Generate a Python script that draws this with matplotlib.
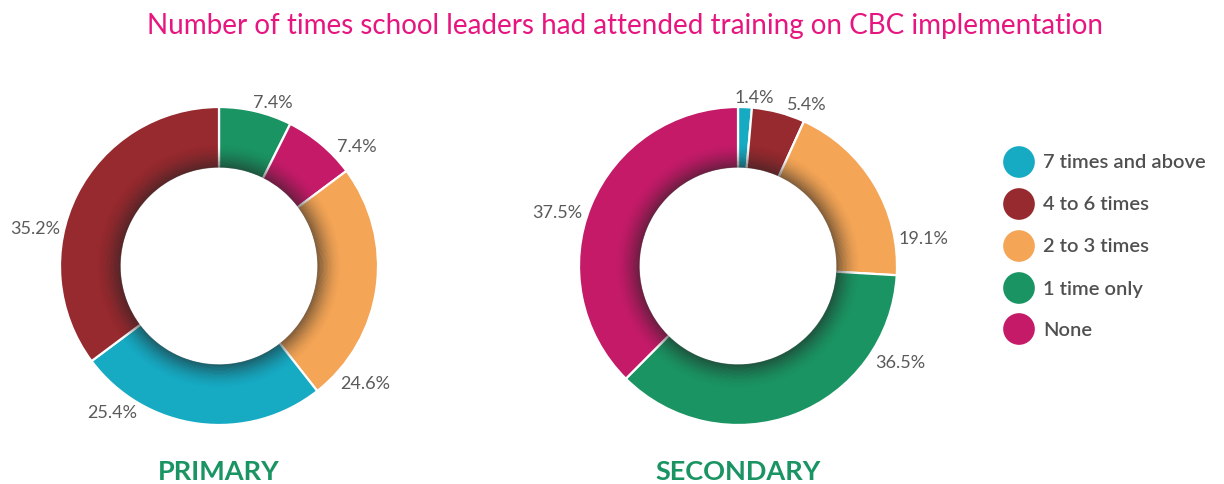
import matplotlib
matplotlib.use("Agg")
import matplotlib.pyplot as plt
from matplotlib.patches import Wedge

# ---------------- data ----------------
categories = ["7 times and above", "4 to 6 times", "2 to 3 times", "1 time only", "None"]
category_colors = ["#16AAC3", "#962A2F", "#F4A556", "#1A9462", "#C41A68"]

primary_order = ["1 time only", "None", "2 to 3 times", "7 times and above", "4 to 6 times"]
primary_values = [7.4, 7.4, 24.6, 25.4, 35.2]

secondary_order = ["7 times and above", "4 to 6 times", "2 to 3 times", "1 time only", "None"]
secondary_values = [1.4, 5.4, 19.1, 36.5, 37.5]

panel_titles = ["PRIMARY", "SECONDARY"]
title = "Number of times school leaders had attended training on CBC implementation"

# ---------------- layout (pixel space, y from top) ----------------
W, H = 1224, 484
centers = [(219, 266), (738, 266)]
R_OUT, R_IN = 159, 97.5
primary_label_xy = [(273, 103), (357, 147), (365, 384), (112, 413), (35, 229)]
secondary_label_xy = [(754, 98), (807, 105), (923, 239), (900, 363), (557, 213)]
legend_x, legend_text_x = 1019, 1043
legend_y = [162, 204, 246, 288, 329]

color_of = dict(zip(categories, category_colors))

fig = plt.figure(figsize=(W / 100, H / 100), dpi=100)
ax = fig.add_axes([0, 0, 1, 1])

def fy(y):
    return H - y

panels = [(primary_order, primary_values, primary_label_xy),
          (secondary_order, secondary_values, secondary_label_xy)]

for (order, vals, label_xy), (cx, cy), ptitle in zip(panels, centers, panel_titles):
    c = (cx, fy(cy))
    cols = [color_of[k] for k in order]
    ax.pie(vals, colors=cols, startangle=90, counterclock=False, center=c,
           radius=R_OUT, normalize=True,
           wedgeprops=dict(width=R_OUT - R_IN, edgecolor="white", linewidth=1.6))
    # inner shadow
    n = 30
    sw = 24.0
    start = R_IN + 0.9
    for i in range(n):
        r0 = start + sw * i / n
        t = 1 - i / n
        a = 0.55 * t ** 1.8
        ax.add_patch(Wedge(c, r0 + sw / n + 0.05, 0, 360, width=sw / n + 0.1,
                           facecolor="#222222", alpha=a, edgecolor="none", zorder=3))
    for v, (lx, ly) in zip(vals, label_xy):
        ax.text(lx, fy(ly), f"{v:.1f}%", ha="center", va="center",
                fontsize=13, color="#5a5a5a", family="Lato", zorder=5)
    ax.text(cx, fy(472), ptitle, ha="center", va="center", fontsize=19.5,
            fontweight="bold", color="#1A9462", family="Lato")

# legend
for cat, col, ly in zip(categories, category_colors, legend_y):
    ax.scatter([legend_x], [fy(ly)], s=520, color=col, edgecolor="none", zorder=5)
    ax.text(legend_text_x, fy(ly + 1), cat, ha="left", va="center", fontsize=14.5,
            fontweight="semibold", color="#505050", family="Lato")

ax.text(625, fy(26), title, ha="center", va="center", fontsize=20,
        color="#E6157F", family="Lato")

ax.set_xlim(0, W)
ax.set_ylim(0, H)
ax.set_aspect("equal")
ax.axis("off")
fig.savefig("out.png", dpi=100, facecolor="white")
